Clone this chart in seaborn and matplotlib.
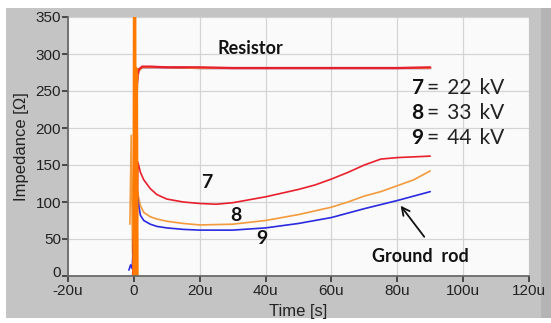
import matplotlib
matplotlib.use("Agg")
import matplotlib.pyplot as plt
import matplotlib.transforms as mtransforms
import seaborn as sns
import pandas as pd
from matplotlib.patches import Rectangle

# ---- data (time in microseconds, impedance in ohms) ----
res7_t = [-0.3, 0.2, 0.5, 0.8, 1.1, 1.5, 2.5, 5, 10, 20, 30, 40, 50, 60, 70, 80, 90]
res7_v = [0, 40, 150, 250, 272, 279, 283, 283, 282, 282, 281, 281, 281, 281, 281, 281, 282]
res8_t = [-0.2, 0.3, 0.6, 1.0, 1.4, 2.5, 5, 10, 20, 30, 40, 50, 60, 70, 80, 90]
res8_v = [0, 60, 180, 262, 277, 282, 282, 282, 281, 281, 281, 281, 281, 281, 281, 281]
res9_t = [-0.2, 0.3, 0.6, 1.0, 1.4, 2.5, 5, 10, 20, 30, 40, 50, 60, 70, 80, 90]
res9_v = [0, 80, 200, 265, 278, 282, 282, 282, 281, 281, 281, 281, 281, 281, 281, 281]

gr7_t = [-0.3, 0.0, 0.3, 0.6, 0.9, 1.2, 2, 3, 5, 7, 10, 15, 20, 25, 30, 40, 50, 55, 60, 65, 70, 75, 80, 85, 90]
gr7_v = [0, 60, 10, 200, 20, 154, 140, 130, 118, 110, 104, 100, 98, 97, 99, 107, 117, 123, 131, 140, 150, 158, 160, 161, 162]
gr8_t = [-1.2, -0.8, -0.4, 0.0, 0.3, 0.6, 1.0, 1.5, 2, 3, 5, 7, 10, 15, 20, 30, 40, 50, 60, 65, 70, 75, 80, 85, 90]
gr8_v = [70, 190, 30, 160, 40, 130, 118, 105, 95, 86, 80, 77, 74, 71, 69, 70, 75, 83, 93, 100, 108, 114, 122, 130, 142]
gr9_t = [-1.5, -1.0, -0.5, 0.0, 0.3, 0.6, 1.0, 1.5, 2, 3, 5, 7, 10, 15, 20, 30, 40, 50, 60, 70, 80, 90]
gr9_v = [8, 15, 10, 60, 20, 110, 108, 95, 82, 75, 70, 67, 65, 63, 62, 62, 65, 71, 79, 91, 102, 114]

spike_t = [0.0, 0.15, 0.3, 0.45, 0.6, 0.8, 1.0]
spike_v = [0, 360, 360, 0, 250, 280, 0]

x_ticks = [-20, 0, 20, 40, 60, 80, 100, 120]
x_tick_labels = ["-20u", "0", "20u", "40u", "60u", "80u", "100u", "120u"]
y_ticks = [0, 50, 100, 150, 200, 250, 300, 350]

legend_digits = ["7", "8", "9"]
legend_texts = ["= 22 kV", "= 33 kV", "= 44 kV"]
legend_y = [254, 220, 186]

RED = "#e8202c"
ORANGE = "#f39a3c"
BLUE = "#2a2ae0"
SPIKE = "#ff7a00"

sns.set_theme(style="white")
plt.rcParams["font.family"] = ["Liberation Sans Narrow", "Liberation Sans", "DejaVu Sans"]

fig = plt.figure(figsize=(5.51, 3.23), dpi=100)
fig.patch.set_facecolor("white")
fig.patches.append(Rectangle((6 / 551, 5 / 323), 545 / 551, 310 / 323,
                             transform=fig.transFigure, facecolor="#c4c4c4",
                             edgecolor="none", zorder=-2))
fig.patches.append(Rectangle((541 / 551, 5 / 323), 10 / 551, 310 / 323,
                             transform=fig.transFigure, facecolor="#b4b4b4",
                             edgecolor="none", zorder=-1))

ax = fig.add_axes([68 / 551, 1 - 276 / 323, 461 / 551, 259 / 323])
ax.set_facecolor("#fafafa")


def draw(t, v, color, lw):
    df = pd.DataFrame({"t": t, "v": v})
    sns.lineplot(data=df, x="t", y="v", ax=ax, color=color, linewidth=lw,
                 sort=False, estimator=None)


draw(gr8_t, gr8_v, ORANGE, 1.2)
draw(gr9_t, gr9_v, BLUE, 1.2)
draw(gr7_t, gr7_v, RED, 1.2)
draw(res9_t, res9_v, BLUE, 1.6)
draw(res8_t, res8_v, ORANGE, 1.6)
draw(res7_t, res7_v, RED, 1.6)
draw(spike_t, spike_v, SPIKE, 2.2)

ax.set_xlim(-20, 120)
ax.set_ylim(0, 350)
ax.set_xticks(x_ticks)
ax.set_xticklabels(x_tick_labels)
ax.set_yticks(y_ticks)
ax.grid(True, color="#d4d4d4", linewidth=0.9)
for s in ax.spines.values():
    s.set_visible(False)
ax.spines["left"].set_visible(True)
ax.spines["bottom"].set_visible(True)
ax.spines["left"].set_color("#666666")
ax.spines["bottom"].set_color("#666666")
ax.tick_params(axis="both", which="both", length=4, width=1.2, color="#333333",
               labelsize=11, labelcolor="#222222", direction="out", pad=1,
               left=True, bottom=True)
ax.tick_params(axis="x", pad=2)
ax.set_xlabel("Time [s]", fontsize=12, color="#222222", labelpad=4)
ax.set_ylabel("Impedance [Ω]", fontsize=12, color="#222222", labelpad=5)

# nudge the "0" y tick label up slightly so it clears the "-20u" label
offset = mtransforms.ScaledTranslation(0, 3 / 72, fig.dpi_scale_trans)
ylab0 = ax.get_yticklabels()[0]
ylab0.set_transform(ylab0.get_transform() + offset)

bfont = ["Lato", "DejaVu Sans"]
ax.text(35.5, 308, "Resistor", fontsize=13, fontweight="bold", family=bfont,
        ha="center", va="center", color="#111111")
for d, txt, yv in zip(legend_digits, legend_texts, legend_y):
    ax.text(88.0, yv, d, fontsize=15, fontweight="bold", family=bfont,
            ha="right", va="center", color="#111111")
    ax.text(89.0, yv, txt.replace(" ", "\u2009 "), fontsize=15, family=bfont,
            ha="left", va="center", color="#222222")

for lab, xv, yv in [("7", 22, 126), ("8", 31, 82), ("9", 39, 50)]:
    ax.text(xv, yv, lab, fontsize=14, fontweight="bold", family=bfont,
            ha="center", va="center", color="#111111")
ax.text(87, 26, "Ground  rod", fontsize=13, fontweight="bold", family=bfont,
        ha="center", va="center", color="#111111")
ax.annotate("", xy=(80.5, 98), xytext=(88.7, 50),
            arrowprops=dict(arrowstyle="->", color="#111111", lw=1.3,
                            mutation_scale=14))

fig.savefig("out.png", dpi=100, facecolor=fig.get_facecolor())
